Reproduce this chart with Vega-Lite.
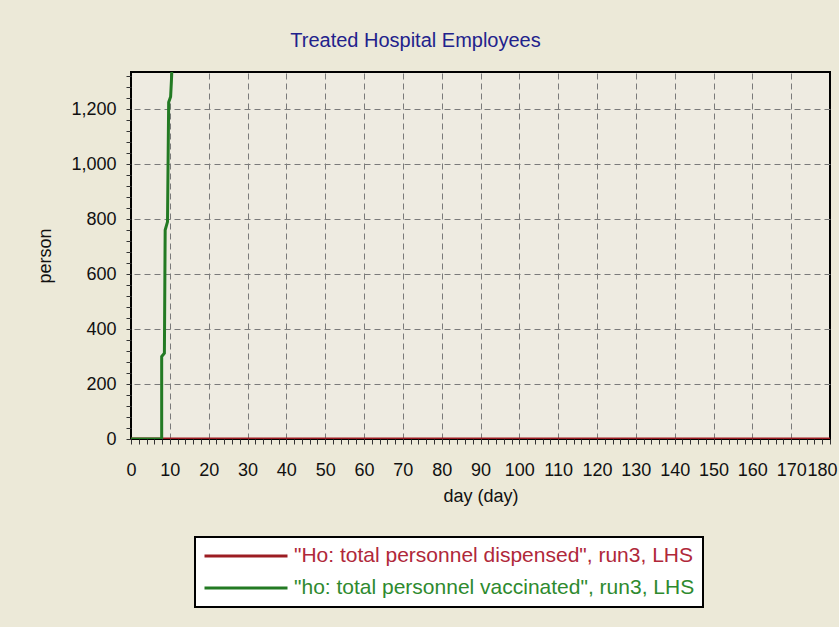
{
  "$schema": "https://vega.github.io/schema/vega-lite/v6.json",
  "autosize": {"type": "none"},
  "width": 699,
  "height": 367,
  "padding": {"left": 131, "top": 72, "right": 9, "bottom": 188},
  "background": "#ECE9D8",
  "title": {"text": "Treated Hospital Employees", "font": "Liberation Sans", "fontSize": 20, "fontWeight": "normal", "color": "#22228c", "anchor": "middle", "offset": 3, "dx": -65},
  "config": {
    "view": {"stroke": "#000000", "strokeWidth": 2, "fill": "#EEEBE1"},
    "axis": {"labelFont": "Liberation Sans", "labelFontSize": 18, "labelColor": "#111111", "titleFont": "Liberation Sans", "titleFontSize": 18, "titleFontWeight": "normal", "titleColor": "#111111", "domain": false, "tickColor": "#333333", "labelOverlap": false, "labelFlush": false, "gridColor": "#7a7a7a", "gridDash": [6, 4], "gridWidth": 1}
  },
  "data": {"values": [
    {"series": "\"Ho: total personnel dispensed\", run3, LHS", "i": 0, "day": 0, "value": 0},
    {"series": "\"Ho: total personnel dispensed\", run3, LHS", "i": 1, "day": 180, "value": 0},
    {"series": "\"ho: total personnel vaccinated\", run3, LHS", "i": 0, "day": 0, "value": 0},
    {"series": "\"ho: total personnel vaccinated\", run3, LHS", "i": 1, "day": 7.9, "value": 0},
    {"series": "\"ho: total personnel vaccinated\", run3, LHS", "i": 2, "day": 7.9, "value": 300},
    {"series": "\"ho: total personnel vaccinated\", run3, LHS", "i": 3, "day": 8.6, "value": 312},
    {"series": "\"ho: total personnel vaccinated\", run3, LHS", "i": 4, "day": 8.8, "value": 760},
    {"series": "\"ho: total personnel vaccinated\", run3, LHS", "i": 5, "day": 9.4, "value": 790},
    {"series": "\"ho: total personnel vaccinated\", run3, LHS", "i": 6, "day": 9.7, "value": 1225},
    {"series": "\"ho: total personnel vaccinated\", run3, LHS", "i": 7, "day": 10.2, "value": 1245},
    {"series": "\"ho: total personnel vaccinated\", run3, LHS", "i": 8, "day": 10.4, "value": 1300},
    {"series": "\"ho: total personnel vaccinated\", run3, LHS", "i": 9, "day": 10.7, "value": 1400}
  ]},
  "resolve": {"axis": {"x": "independent", "y": "independent"}},
  "layer": [
    {
      "mark": {"type": "line", "opacity": 0},
      "encoding": {
        "x": {"field": "day", "type": "quantitative", "axis": {"orient": "top", "title": null, "labels": false, "grid": true, "tickSize": 0, "values": [10,20,30,40,50,60,70,80,90,100,110,120,130,140,150,160,170]}},
        "y": {"field": "value", "type": "quantitative", "axis": {"orient": "right", "title": null, "labels": false, "grid": true, "tickSize": 0, "values": [200,400,600,800,1000,1200]}},
        "detail": {"field": "series", "type": "nominal"}
      }
    },
    {
      "mark": {"type": "line", "strokeWidth": 3, "clip": true},
      "encoding": {
        "x": {"field": "day", "type": "quantitative", "scale": {"domain": [0, 180], "nice": false, "zero": false},
          "axis": {"orient": "bottom", "title": "day (day)", "titlePadding": 8, "labelPadding": 17, "tickSize": 5, "grid": false,
            "labelOffset": {"condition": {"test": "datum.value >= 180", "value": -8}, "value": 0},
            "values": [0,2,4,6,8,10,12,14,16,18,20,22,24,26,28,30,32,34,36,38,40,42,44,46,48,50,52,54,56,58,60,62,64,66,68,70,72,74,76,78,80,82,84,86,88,90,92,94,96,98,100,102,104,106,108,110,112,114,116,118,120,122,124,126,128,130,132,134,136,138,140,142,144,146,148,150,152,154,156,158,160,162,164,166,168,170,172,174,176,178,180],
            "labelExpr": "datum.value % 10 == 0 ? datum.label : ''"}},
        "y": {"field": "value", "type": "quantitative", "scale": {"domain": [0, 1335], "nice": false},
          "axis": {"orient": "left", "title": "person", "titlePadding": 16, "labelPadding": 10, "format": ",d", "tickSize": 5, "grid": false,
            "values": [0,40,80,120,160,200,240,280,320,360,400,440,480,520,560,600,640,680,720,760,800,840,880,920,960,1000,1040,1080,1120,1160,1200,1240,1280,1320],
            "labelExpr": "datum.value % 200 == 0 ? datum.label : ''"}},
        "color": {"field": "series", "type": "nominal",
          "scale": {"domain": ["\"Ho: total personnel dispensed\", run3, LHS", "\"ho: total personnel vaccinated\", run3, LHS"], "range": ["#9c1c22", "#237a23"]},
          "legend": {"title": null, "orient": "none", "legendX": 64, "legendY": 465, "direction": "vertical", "symbolType": "stroke", "symbolSize": 6889, "symbolStrokeWidth": 3, "clipHeight": 22, "labelFont": "Liberation Sans", "labelFontSize": 21, "labelOffset": 5, "labelLimit": 600, "rowPadding": 10, "padding": 8, "fillColor": "#FFFFFF", "strokeColor": "#000000",
            "encode": {"legend": {"update": {"strokeWidth": {"value": 2}}}, "labels": {"update": {"fill": {"signal": "test(/dispensed/, datum.value) ? '#b0283a' : '#2e8a2e'"}}}}}},
        "order": {"field": "i", "type": "quantitative"}
      }
    }
  ]
}
